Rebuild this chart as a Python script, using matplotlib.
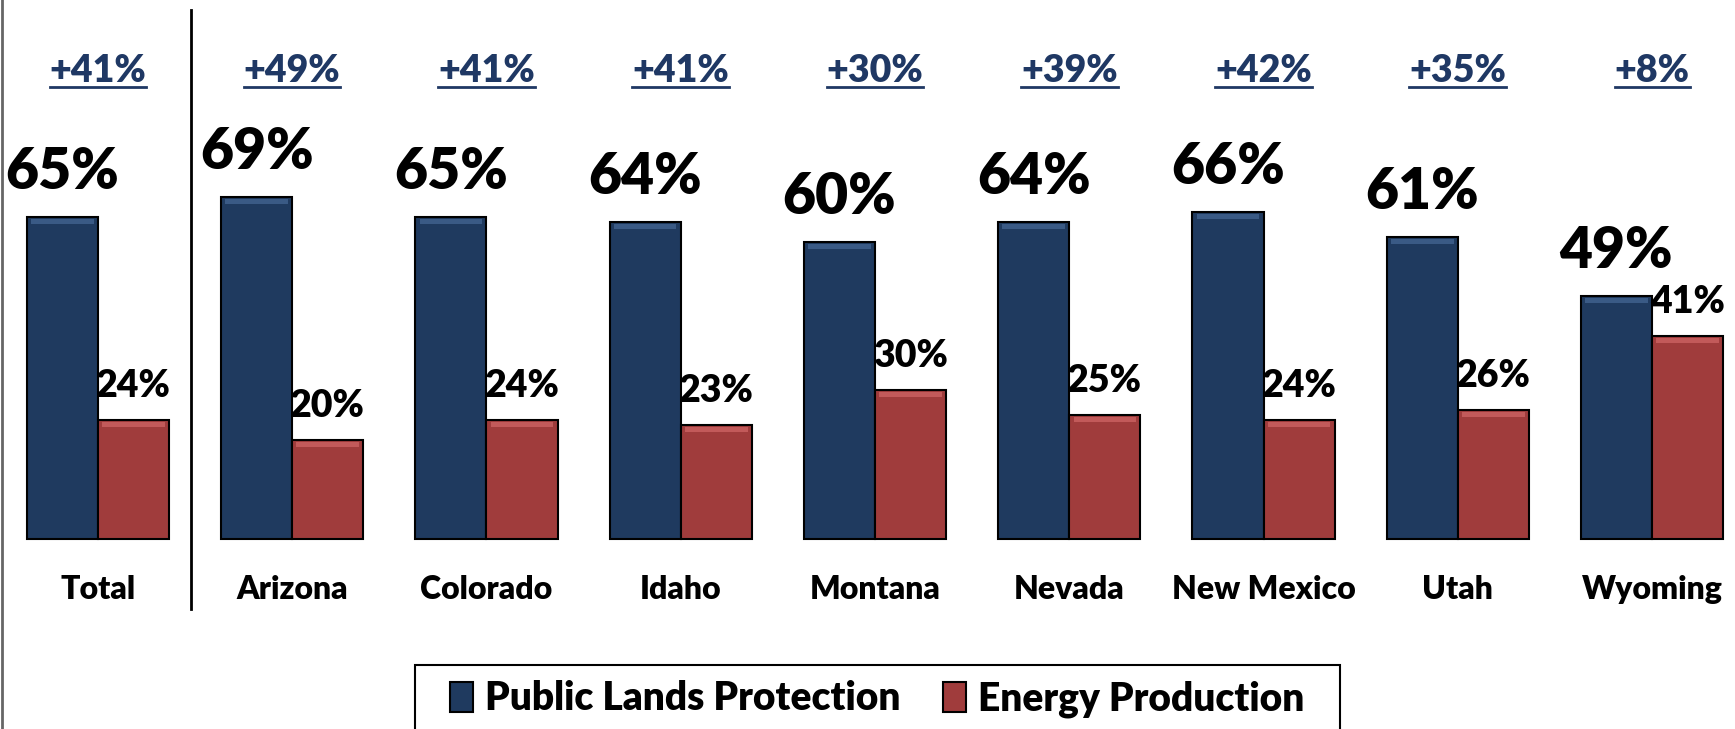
import numpy as np
import matplotlib.pyplot as plt
from matplotlib.lines import Line2D
from matplotlib.patches import Patch, Rectangle

categories = ["Total", "Arizona", "Colorado", "Idaho", "Montana",
              "Nevada", "New Mexico", "Utah", "Wyoming"]
protection = [65, 69, 65, 64, 60, 64, 66, 61, 49]
energy = [24, 20, 24, 23, 30, 25, 24, 26, 41]
margins = [f"+{p - e}%" for p, e in zip(protection, energy)]
series_names = ["Public Lands Protection", "Energy Production"]

BLUE = "#1F3A5F"
RED = "#A03C3C"
BLUE_HI = "#3A5A85"
RED_HI = "#C25A5A"
NAVY_TXT = "#1F3864"
WT = "heavy"

plt.rcParams["font.family"] = ["Lato", "DejaVu Sans"]
plt.rcParams["font.weight"] = WT

fig = plt.figure(figsize=(17.35, 7.29), dpi=100)
ax = fig.add_axes([0, 0, 1, 1])
ax.set_xlim(-0.504, 8.427)
ax.set_ylim(-38.4, 108.9)
ax.axis("off")

x = np.arange(len(categories))
w = 0.366
bevel = 1.0

ax.bar(x - w / 2, protection, w, color=BLUE, edgecolor="black", lw=1.5, zorder=2)
ax.bar(x + w / 2, energy, w, color=RED, edgecolor="black", lw=1.5, zorder=2)
# soft bevel along the top of each bar
ax.bar(x - w / 2, bevel, w * 0.88, bottom=np.array(protection) - bevel - 0.35,
       color=BLUE_HI, lw=0, zorder=3)
ax.bar(x + w / 2, bevel, w * 0.88, bottom=np.array(energy) - bevel - 0.35,
       color=RED_HI, lw=0, zorder=3)

for i in range(len(categories)):
    ax.text(x[i] - w / 2, protection[i] + 5.7, f"{protection[i]}%", ha="center",
            va="baseline", fontsize=41, fontweight=WT, color="black")
    ax.text(x[i] + w / 2, energy[i] + 4.7, f"{energy[i]}%", ha="center",
            va="baseline", fontsize=27, fontweight=WT, color="black")
    ax.text(x[i], -12.1, categories[i], ha="center", va="baseline",
            fontsize=23, fontweight=WT, color="black")

top_texts = []
for i in range(len(categories)):
    t = ax.text(x[i], 92.3, margins[i], ha="center", va="baseline",
                fontsize=27, fontweight=WT, color=NAVY_TXT)
    top_texts.append(t)

# divider between Total and the states
ax.axvline(0.48, ymin=1 - 609 / 729, ymax=1 - 10 / 729, color="black", lw=2)

# underline the margin labels
fig.canvas.draw()
renderer = fig.canvas.get_renderer()
inv = fig.transFigure.inverted()
for t in top_texts:
    bb = t.get_window_extent(renderer)
    base = ax.transData.transform((0, 92.3))[1] - 5
    (x0, y0), (x1, _) = inv.transform([(bb.x0, base), (bb.x1, base)])
    fig.add_artist(Line2D([x0, x1], [y0, y0], color=NAVY_TXT, lw=2,
                          transform=fig.transFigure))

# slide border on the left
fig.add_artist(Line2D([0.0012, 0.0012], [0, 1], color="#666666", lw=2,
                      transform=fig.transFigure))

handles = [Patch(facecolor=BLUE, edgecolor="black", lw=1.5),
           Patch(facecolor=RED, edgecolor="black", lw=1.5)]
ax.legend(handles, series_names, ncol=2, loc="center",
          bbox_to_anchor=(877 / 1735, 1 - 699 / 729), bbox_transform=fig.transFigure,
          frameon=False, prop={"size": 28, "weight": WT},
          handlelength=0.6, handleheight=0.8, handletextpad=0.3, columnspacing=1.1)
fig.add_artist(Rectangle((415 / 1735, -0.05), 925 / 1735, (729 - 665) / 729 + 0.05,
                         transform=fig.transFigure, fill=False,
                         edgecolor="black", lw=1.5))

fig.savefig("out.png", dpi=100)
